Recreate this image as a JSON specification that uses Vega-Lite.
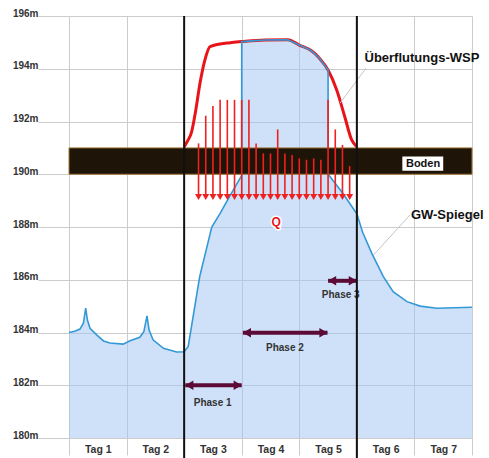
{
  "$schema": "https://vega.github.io/schema/vega-lite/v6.json",
  "width": 403,
  "height": 422,
  "autosize": "none",
  "padding": {"left": 69, "top": 16, "right": 17, "bottom": 20},
  "background": "white",
  "config": {"view": {"stroke": null}, "font": "Liberation Sans"},
  "datasets": {
    "gw": [
      {"day": 0, "level": 184.0},
      {"day": 0.1, "level": 184.05},
      {"day": 0.19, "level": 184.13},
      {"day": 0.25, "level": 184.35},
      {"day": 0.29, "level": 184.92},
      {"day": 0.32, "level": 184.47},
      {"day": 0.365, "level": 184.16},
      {"day": 0.48, "level": 183.91},
      {"day": 0.6, "level": 183.68},
      {"day": 0.71, "level": 183.6},
      {"day": 0.94, "level": 183.56},
      {"day": 1.06, "level": 183.69},
      {"day": 1.23, "level": 183.82},
      {"day": 1.3, "level": 184.03},
      {"day": 1.355, "level": 184.63},
      {"day": 1.39, "level": 184.1},
      {"day": 1.46, "level": 183.72},
      {"day": 1.64, "level": 183.4},
      {"day": 1.87, "level": 183.26},
      {"day": 2.0, "level": 183.27},
      {"day": 2.07, "level": 183.46},
      {"day": 2.27, "level": 186.12},
      {"day": 2.48, "level": 188.0},
      {"day": 2.62, "level": 188.5},
      {"day": 2.8, "level": 189.2},
      {"day": 2.999, "level": 189.95},
      {"day": 3.0, "level": 195.03},
      {"day": 3.4, "level": 195.09},
      {"day": 3.8, "level": 195.1},
      {"day": 4.0, "level": 194.9},
      {"day": 4.2, "level": 194.7},
      {"day": 4.35, "level": 194.4},
      {"day": 4.5, "level": 193.95},
      {"day": 4.501, "level": 190.0},
      {"day": 4.75, "level": 189.3},
      {"day": 5.0, "level": 188.5},
      {"day": 5.1, "level": 187.8},
      {"day": 5.26, "level": 187.0},
      {"day": 5.46, "level": 186.12},
      {"day": 5.63, "level": 185.55},
      {"day": 5.87, "level": 185.17},
      {"day": 6.1, "level": 185.0},
      {"day": 6.39, "level": 184.92},
      {"day": 7.0, "level": 184.96}
    ],
    "flood": [
      {"day": 2.0, "level": 191.04},
      {"day": 2.07, "level": 191.3},
      {"day": 2.13, "level": 191.61},
      {"day": 2.2, "level": 192.4},
      {"day": 2.275, "level": 193.45},
      {"day": 2.36, "level": 194.33},
      {"day": 2.45, "level": 194.84},
      {"day": 2.8, "level": 194.99},
      {"day": 3.0, "level": 195.03},
      {"day": 3.4, "level": 195.09},
      {"day": 3.8, "level": 195.1},
      {"day": 4.0, "level": 194.9},
      {"day": 4.2, "level": 194.7},
      {"day": 4.35, "level": 194.4},
      {"day": 4.5, "level": 193.95},
      {"day": 4.65, "level": 193.19},
      {"day": 4.79, "level": 192.18},
      {"day": 4.91, "level": 191.3},
      {"day": 5.0, "level": 191.04}
    ],
    "arrows": [
      {"day": 2.25, "top": 191.17},
      {"day": 2.375, "top": 192.22},
      {"day": 2.5, "top": 192.59},
      {"day": 2.625, "top": 192.82},
      {"day": 2.75, "top": 192.82},
      {"day": 2.875, "top": 192.82},
      {"day": 3.0, "top": 192.82},
      {"day": 3.125, "top": 192.82},
      {"day": 3.25, "top": 191.17},
      {"day": 3.375, "top": 190.79},
      {"day": 3.5, "top": 190.79},
      {"day": 3.625, "top": 191.7},
      {"day": 3.75, "top": 190.79},
      {"day": 3.875, "top": 190.73},
      {"day": 4.0, "top": 190.6},
      {"day": 4.125, "top": 190.55},
      {"day": 4.25, "top": 190.6},
      {"day": 4.375, "top": 190.55},
      {"day": 4.5, "top": 192.82},
      {"day": 4.625, "top": 191.7},
      {"day": 4.75, "top": 191.11},
      {"day": 4.875, "top": 190.31}
    ],
    "phases": [
      {"phase": "Phase 1", "x1": 2.02, "x2": 3.0, "y": 182.0, "lx": 2.495, "ly": 181.31},
      {"phase": "Phase 2", "x1": 3.02, "x2": 4.49, "y": 183.99, "lx": 3.75, "ly": 183.4},
      {"phase": "Phase 3", "x1": 4.5, "x2": 5.0, "y": 185.96, "lx": 4.72, "ly": 185.42}
    ]
  },
  "layer": [
    {
      "data": {"name": "gw"},
      "mark": {"type": "area", "fill": "#a0c4f4", "fillOpacity": 0.5, "clip": true},
      "encoding": {
        "x": {
          "field": "day", "type": "quantitative",
          "scale": {"domain": [0, 7], "nice": false, "zero": false},
          "axis": {
            "values": [0, 1, 2, 3, 4, 5, 6, 7],
            "grid": true, "gridColor": "#cccccc",
            "domain": false,
            "ticks": true, "tickSize": 17, "tickColor": "#cccccc",
            "labelExpr": "datum.value < 7 ? 'Tag ' + (datum.value + 1) : ''",
            "labelOffset": 28.8, "labelPadding": -6, "labelBaseline": "middle",
            "labelFlush": false, "labelOverlap": false, "labelBound": false,
            "labelFont": "Liberation Sans", "labelFontWeight": "bold", "labelFontSize": 10.5, "labelColor": "#333333",
            "title": null
          }
        },
        "y": {
          "field": "level", "type": "quantitative",
          "scale": {"domain": [180, 196], "nice": false, "zero": false},
          "axis": {
            "values": [180, 182, 184, 186, 188, 190, 192, 194, 196],
            "grid": true, "gridColor": "#cccccc",
            "domain": false,
            "ticks": true, "tickSize": 31, "tickColor": "#cccccc",
            "labelExpr": "datum.value + 'm'",
            "labelPadding": 0, "labelBaseline": "alphabetic",
            "labelFont": "Liberation Sans", "labelFontWeight": "bold", "labelFontSize": 10, "labelColor": "#333333",
            "title": null
          }
        }
      }
    },
    {
      "data": {"name": "flood"},
      "mark": {"type": "line", "color": "#e8141a", "strokeWidth": 3, "interpolate": "monotone"},
      "encoding": {
        "x": {"field": "day", "type": "quantitative"},
        "y": {"field": "level", "type": "quantitative"}
      }
    },
    {
      "data": {"name": "gw"},
      "mark": {"type": "line", "color": "#3399d6", "strokeWidth": 1.6},
      "encoding": {
        "x": {"field": "day", "type": "quantitative"},
        "y": {"field": "level", "type": "quantitative"}
      }
    },
    {
      "data": {"values": [{"x1": 0, "x2": 7, "y1": 190, "y2": 191}]},
      "mark": {"type": "rect", "fill": "#1f1408", "stroke": "#a27a3c", "strokeWidth": 1},
      "encoding": {
        "x": {"field": "x1", "type": "quantitative"},
        "x2": {"field": "x2"},
        "y": {"field": "y1", "type": "quantitative"},
        "y2": {"field": "y2"}
      }
    },
    {
      "data": {"name": "arrows"},
      "mark": {"type": "rule", "color": "#f02020", "strokeWidth": 1.6},
      "encoding": {
        "x": {"field": "day", "type": "quantitative"},
        "y": {"field": "top", "type": "quantitative"},
        "y2": {"datum": 189.25}
      }
    },
    {
      "data": {"name": "arrows"},
      "mark": {"type": "point", "shape": "triangle-down", "filled": true, "size": 49, "color": "#f02020", "opacity": 1},
      "encoding": {
        "x": {"field": "day", "type": "quantitative"},
        "y": {"datum": 189.14}
      }
    },
    {
      "data": {"values": [{"x1": 5.79, "x2": 6.5, "y1": 190.13, "y2": 190.67}]},
      "mark": {"type": "rect", "fill": "white"},
      "encoding": {
        "x": {"field": "x1", "type": "quantitative"},
        "x2": {"field": "x2"},
        "y": {"field": "y1", "type": "quantitative"},
        "y2": {"field": "y2"}
      }
    },
    {
      "data": {"values": [{"label": "Boden", "day": 6.15, "level": 190.4}]},
      "mark": {"type": "text", "font": "Liberation Sans", "fontWeight": "bold", "fontSize": 11, "color": "#111111", "baseline": "middle", "align": "center"},
      "encoding": {
        "x": {"field": "day", "type": "quantitative"},
        "y": {"field": "level", "type": "quantitative"},
        "text": {"field": "label"}
      }
    },
    {
      "data": {"name": "phases"},
      "mark": {"type": "rule", "color": "#5c0b36", "strokeWidth": 4},
      "encoding": {
        "x": {"field": "x1", "type": "quantitative"},
        "x2": {"field": "x2"},
        "y": {"field": "y", "type": "quantitative"}
      }
    },
    {
      "data": {"name": "phases"},
      "mark": {"type": "point", "shape": "triangle-left", "filled": true, "size": 90, "color": "#5c0b36", "opacity": 1, "xOffset": 4},
      "encoding": {
        "x": {"field": "x1", "type": "quantitative"},
        "y": {"field": "y", "type": "quantitative"}
      }
    },
    {
      "data": {"name": "phases"},
      "mark": {"type": "point", "shape": "triangle-right", "filled": true, "size": 90, "color": "#5c0b36", "opacity": 1, "xOffset": -4},
      "encoding": {
        "x": {"field": "x2", "type": "quantitative"},
        "y": {"field": "y", "type": "quantitative"}
      }
    },
    {
      "data": {"name": "phases"},
      "mark": {"type": "text", "font": "Liberation Sans", "fontWeight": "bold", "fontSize": 10, "color": "#333333", "baseline": "middle", "align": "center"},
      "encoding": {
        "x": {"field": "lx", "type": "quantitative"},
        "y": {"field": "ly", "type": "quantitative"},
        "text": {"field": "phase"}
      }
    },
    {
      "data": {"values": [
        {"x1": 4.71, "y1": 192.7, "x2": 5.16, "y2": 194.03},
        {"x1": 5.29, "y1": 186.94, "x2": 5.92, "y2": 188.45}
      ]},
      "mark": {"type": "rule", "color": "#c4c4c4", "strokeWidth": 1},
      "encoding": {
        "x": {"field": "x1", "type": "quantitative"},
        "x2": {"field": "x2"},
        "y": {"field": "y1", "type": "quantitative"},
        "y2": {"field": "y2"}
      }
    },
    {
      "data": {"values": [{"day": 2}, {"day": 5}]},
      "mark": {"type": "rule", "color": "#111111", "strokeWidth": 2},
      "encoding": {
        "x": {"field": "day", "type": "quantitative"},
        "y": {"datum": 196},
        "y2": {"datum": 179.2}
      }
    },
    {
      "data": {"values": [
        {"label": "Überflutungs-WSP", "day": 6.13, "level": 194.4},
        {"label": "GW-Spiegel", "day": 6.57, "level": 188.45}
      ]},
      "mark": {"type": "text", "font": "Liberation Sans", "fontWeight": "bold", "fontSize": 13, "color": "#111111", "baseline": "middle", "align": "center"},
      "encoding": {
        "x": {"field": "day", "type": "quantitative"},
        "y": {"field": "level", "type": "quantitative"},
        "text": {"field": "label"}
      }
    },
    {
      "data": {"values": [{"label": "Q", "day": 3.6, "level": 188.19}]},
      "mark": {"type": "text", "font": "Liberation Sans", "fontWeight": "bold", "fontSize": 12, "color": "white", "stroke": "white", "strokeWidth": 3, "baseline": "middle", "align": "center"},
      "encoding": {
        "x": {"field": "day", "type": "quantitative"},
        "y": {"field": "level", "type": "quantitative"},
        "text": {"field": "label"}
      }
    },
    {
      "data": {"values": [{"label": "Q", "day": 3.6, "level": 188.19}]},
      "mark": {"type": "text", "font": "Liberation Sans", "fontWeight": "bold", "fontSize": 12, "color": "#e8141a", "baseline": "middle", "align": "center"},
      "encoding": {
        "x": {"field": "day", "type": "quantitative"},
        "y": {"field": "level", "type": "quantitative"},
        "text": {"field": "label"}
      }
    }
  ]
}
